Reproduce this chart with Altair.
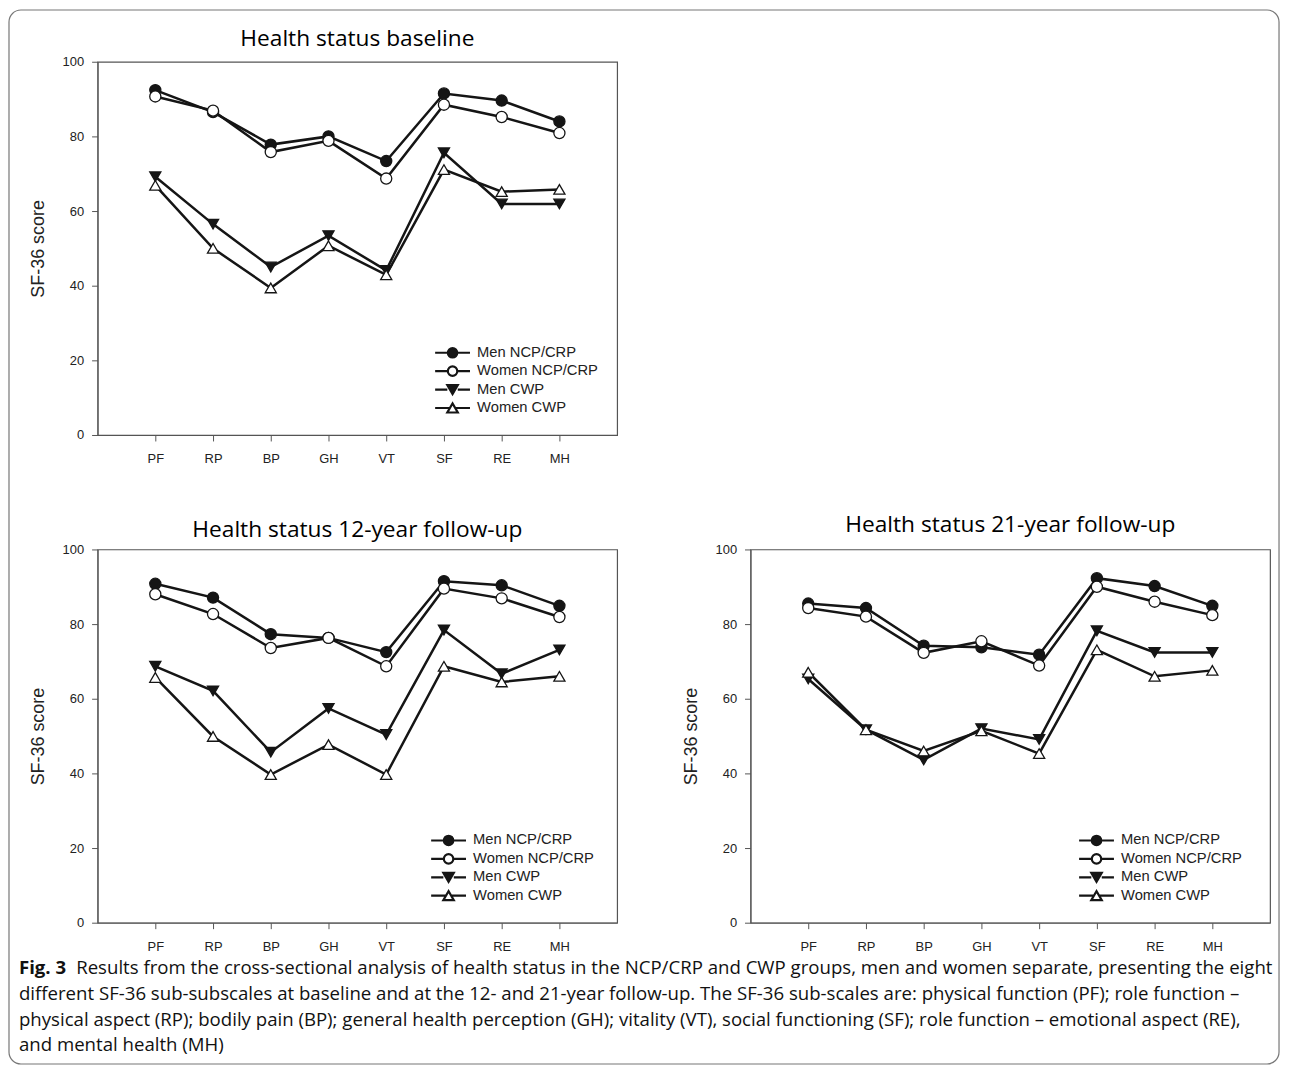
import altair as alt
import pandas as pd

# ---------------- data ----------------
categories = ["PF", "RP", "BP", "GH", "VT", "SF", "RE", "MH"]
series_names = ["Men NCP/CRP", "Women NCP/CRP", "Men CWP", "Women CWP"]

# baseline
base_men_ncp = [92.4, 86.5, 77.8, 80.0, 73.4, 91.5, 89.6, 84.0]
base_women_ncp = [90.7, 86.9, 75.8, 78.8, 68.7, 88.5, 85.2, 80.9]
base_men_cwp = [69.2, 56.5, 45.0, 53.4, 44.1, 75.6, 61.9, 61.9]
base_women_cwp = [66.9, 50.0, 39.4, 50.7, 42.9, 71.1, 65.2, 65.8]

# 12-year follow-up
fu12_men_ncp = [90.8, 87.1, 77.3, 76.3, 72.5, 91.5, 90.4, 84.9]
fu12_women_ncp = [88.0, 82.7, 73.6, 76.3, 68.7, 89.5, 86.9, 81.9]
fu12_men_cwp = [68.7, 62.1, 45.7, 57.4, 50.4, 78.4, 66.7, 73.1]
fu12_women_cwp = [65.7, 49.9, 39.7, 47.7, 39.7, 68.7, 64.5, 66.0]

# 21-year follow-up
fu21_men_ncp = [85.5, 84.3, 74.2, 73.8, 71.8, 92.3, 90.2, 84.9]
fu21_women_ncp = [84.3, 82.0, 72.3, 75.4, 68.9, 90.0, 86.0, 82.4]
fu21_men_cwp = [65.3, 51.7, 43.6, 52.0, 49.1, 78.2, 72.4, 72.4]
fu21_women_cwp = [67.1, 51.7, 46.0, 51.4, 45.3, 73.1, 66.0, 67.6]

y_ticks = [0, 20, 40, 60, 80, 100]
panel_titles = [
    "Health status baseline",
    "Health status 12-year follow-up",
    "Health status 21-year follow-up",
]
y_title = "SF-36 score"

caption_bold = "Fig. 3"
caption_lines = [
    "Results from the cross-sectional analysis of health status in the NCP/CRP and CWP groups, men and women separate, presenting the eight",
    "different SF-36 sub-subscales at baseline and at the 12- and 21-year follow-up. The SF-36 sub-scales are: physical function (PF); role function \u2013",
    "physical aspect (RP); bodily pain (BP); general health perception (GH); vitality (VT), social functioning (SF); role function \u2013 emotional aspect (RE),",
    "and mental health (MH)",
]

# ---------------- styling ----------------
W, H = 522, 375
INK = "#151515"
marker_shapes = ["circle", "circle", "triangle-down", "triangle-up"]
marker_fills = [INK, "#ffffff", INK, "#ffffff"]
marker_strokes = [INK, INK, INK, INK]
# legend glyphs: short line with the marker in the middle
legend_paths = [
    "M-3.5,0L-0.95,0M0.95,0L3.5,0M-0.95,0A0.95,0.95,0,1,1,0.95,0A0.95,0.95,0,1,1,-0.95,0Z",
    "M-3.5,0L-0.95,0M0.95,0L3.5,0M-0.95,0A0.95,0.95,0,1,1,0.95,0A0.95,0.95,0,1,1,-0.95,0Z",
    "M-3.5,0L-1.05,0M1.05,0L3.5,0M-1.05,-0.9L1.05,-0.9L0,0.9Z",
    "M-3.5,0L-0.55,0M0.55,0L3.5,0M-1.05,0.9L1.05,0.9L0,-0.9Z",
]


def make_df(groups):
    rows = []
    for s, vals in zip(series_names, groups):
        for i, (c, v) in enumerate(zip(categories, vals)):
            rows.append({"series": s, "cat": c, "idx": i, "score": v})
    return pd.DataFrame(rows)


def panel(df, title, title_offset, legend_x, legend_y):
    x = alt.X(
        "cat:N",
        sort=categories,
        scale=alt.Scale(type="point", padding=1),
        axis=alt.Axis(title=None, labelAngle=0, labelPadding=12, tickSize=6),
    )
    y = alt.Y(
        "score:Q",
        scale=alt.Scale(domain=[0, 100]),
        axis=alt.Axis(title=y_title, values=y_ticks, labelPadding=8, tickSize=6, titlePadding=15),
    )
    base = alt.Chart(df)
    lines = base.mark_line(color=INK, strokeWidth=2.5).encode(
        x=x, y=y, detail="series:N", order="idx:Q"
    )
    pts = base.mark_point(size=125, strokeWidth=1.3, stroke=INK, opacity=1).encode(
        x=x,
        y=y,
        shape=alt.Shape("series:N", scale=alt.Scale(domain=series_names, range=marker_shapes), legend=None),
        fill=alt.Fill("series:N", scale=alt.Scale(domain=series_names, range=marker_fills), legend=None),
    )
    leg_def = dict(
        title=None,
        orient="none",
        legendX=legend_x,
        legendY=legend_y,
        padding=0,
        labelFont="Liberation Sans",
        labelFontSize=14.8,
        labelColor="#222222",
        symbolSize=100,
        symbolStrokeWidth=2.2,
        symbolOffset=0,
        labelOffset=17.25,
        rowPadding=-0.5,
    )
    leg = base.mark_point(size=100, strokeWidth=2.2, opacity=1).encode(
        shape=alt.Shape("series:N", scale=alt.Scale(domain=series_names, range=legend_paths), legend=alt.Legend(**leg_def)),
        fill=alt.Fill("series:N", scale=alt.Scale(domain=series_names, range=marker_fills), legend=alt.Legend(**leg_def)),
        stroke=alt.Stroke("series:N", scale=alt.Scale(domain=series_names, range=marker_strokes), legend=alt.Legend(**leg_def)),
    ).transform_filter("false")
    return (
        alt.layer(lines, pts, leg)
        .resolve_scale(shape="independent", fill="independent", stroke="independent")
        .properties(
            width=W,
            height=H,
            title=alt.TitleParams(
                text=title,
                font="Open Sans",
                fontSize=22.8,
                fontWeight="normal",
                color="#000000",
                anchor="middle",
                frame="group",
                baseline="middle",
                offset=title_offset,
            ),
        )
    )


top = panel(make_df([base_men_ncp, base_women_ncp, base_men_cwp, base_women_cwp]), panel_titles[0], -5.5, 349.25, 285)
bl = panel(make_df([fu12_men_ncp, fu12_women_ncp, fu12_men_cwp, fu12_women_cwp]), panel_titles[1], -9.5, 345.25, 285)
br = panel(make_df([fu21_men_ncp, fu21_women_ncp, fu21_men_cwp, fu21_women_cwp]), panel_titles[2], -4.5, 340.25, 285)

spacer = (
    alt.Chart(pd.DataFrame({"v": [0]}))
    .mark_point(opacity=0)
    .encode(x=alt.value(0), y=alt.value(0))
    .properties(width=W, height=H, view=alt.ViewBackground(strokeOpacity=0))
)

CAP_FS = 18.7
cap_src = alt.Chart(pd.DataFrame({"v": [0]}))
cap_style = dict(font="Open Sans", fontSize=CAP_FS, align="left", baseline="middle", color="#111111")
cap_layers = [
    cap_src.mark_text(text=caption_bold, fontWeight="bold", **cap_style).encode(x=alt.value(-79), y=alt.value(-69)),
    cap_src.mark_text(text=caption_lines[0], **cap_style).encode(x=alt.value(-21.5), y=alt.value(-69)),
    cap_src.mark_text(text=caption_lines[1], **cap_style).encode(x=alt.value(-79), y=alt.value(-43)),
    cap_src.mark_text(text=caption_lines[2], **cap_style).encode(x=alt.value(-79), y=alt.value(-17)),
    cap_src.mark_text(text=caption_lines[3], **cap_style).encode(x=alt.value(-79), y=alt.value(8)),
    cap_src.mark_rect(fillOpacity=0, stroke="#777777", strokeWidth=1.2, cornerRadius=12).encode(
        x=alt.value(-89), x2=alt.value(1187), y=alt.value(-1032), y2=alt.value(27)
    ),
]
caption = alt.layer(*cap_layers).properties(width=W, height=10, view=alt.ViewBackground(strokeOpacity=0))

chart = (
    alt.concat(
        top, spacer, bl, br, caption,
        columns=2,
        spacing={"row": 115, "column": 134},
        bounds="flush",
        padding={"left": 0, "top": -1.5, "right": 2, "bottom": 2},
    )
    .configure_view(stroke="#555555", strokeWidth=1.2)
    .configure_axis(
        domainColor="#555555",
        tickColor="#555555",
        labelColor="#222222",
        labelFont="Liberation Sans",
        labelFontSize=13,
        titleFont="Liberation Sans",
        titleFontSize=18,
        titleFontWeight="normal",
        titleColor="#222222",
        grid=False,
    )
)

chart.save("out.html", embed_options={"renderer": "svg", "actions": False})
